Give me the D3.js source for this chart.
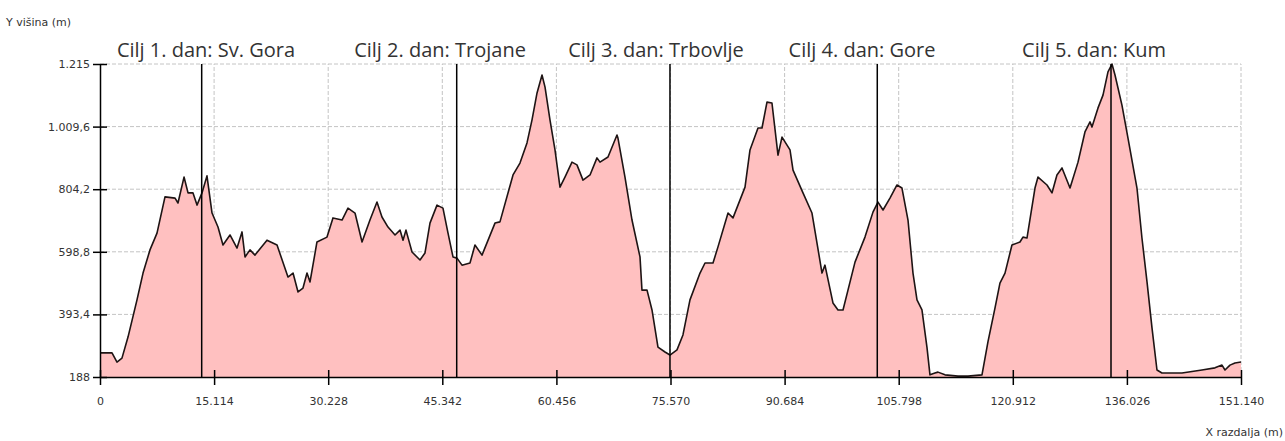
<!DOCTYPE html>
<html>
<head>
  <meta charset="utf-8">
  <title>Višinski profil</title>
  <script src="https://d3js.org/d3.v7.min.js"></script>
  <style>
    body { margin: 0; background: #fff; }
    svg text { font-family: "DejaVu Sans", sans-serif; font-size: 11px; fill: #333; }
    svg text.cilj { font-family: "Open Sans", sans-serif; font-size: 20px; fill: #333; }
    .grid line { stroke: #c4c4c4; stroke-dasharray: 4,2; }
  </style>
</head>
<body>
<div id="vis"></div>
<script>
// profil poti: razdalja (m) in višina (m), odčitano s slike
var razdalja = [0,660,1590,2250,2910,3710,4900,5700,6620,7550,
  8610,9940,10330,11130,11660,12320,12850,13510,14170,14840,
  15630,16290,17220,18150,18810,19210,19870,20530,22120,23450,
  24900,25570,26230,26890,27420,27820,28740,30070,30860,32060,
  32850,33780,34710,35760,36690,37350,38150,39080,39740,40140,
  40530,41330,42390,43050,43710,44640,45430,46100,46760,47290,
  47950,49010,49670,50600,52320,52980,54710,55630,56560,57220,
  57890,58550,58950,59610,60270,60930,61590,62520,63180,63980,
  64910,65830,66230,67290,68480,68610,69540,70470,71530,71790,
  72460,73120,73910,74840,75500,76430,77220,78150,79480,80140,
  81200,81860,83190,83850,85440,86100,87160,87690,88350,89010,
  89810,90340,91400,91800,93120,94310,95640,96030,97090,97760,
  98420,99080,100010,101330,102390,103050,103720,104640,105570,106230,
  107030,107690,108220,108880,109540,109940,110600,111000,111930,113650,
  114980,116830,117620,118550,119210,119880,120800,121860,122260,122790,
  123850,124250,125440,126100,126760,127430,128490,129550,130470,131140,
  131400,132200,132860,133520,134050,134450,135370,136170,137360,138020,
  138690,139350,140010,140670,143320,145970,147690,148620,149020,149680,150340,151140];

var visina = [267,267,267,237,250,319,441,529,605,660,
  779,775,759,844,792,792,752,792,848,726,
  680,621,654,611,664,582,605,588,637,621,
  516,529,467,480,529,500,631,647,710,703,
  742,726,631,703,762,713,680,654,670,637,
  670,598,572,595,693,752,742,660,582,578,
  555,562,621,588,693,697,851,890,956,1031,
  1120,1179,1139,1031,933,811,844,893,884,834,
  851,907,893,910,982,972,844,703,582,473,
  473,408,286,270,260,277,326,441,529,562,
  562,615,726,710,811,933,1005,1005,1090,1087,
  916,975,933,867,792,726,529,555,431,408,
  408,473,565,647,729,762,736,775,818,808,
  703,529,441,408,286,195,201,204,195,191,
  191,195,303,414,496,529,621,631,647,644,
  808,844,818,792,851,874,808,893,992,1025,
  1008,1071,1113,1189,1215,1179,1080,972,808,644,
  500,349,211,201,201,211,218,227,211,227,234,237];

// cilji posameznih dni
var ciljIme = ["Cilj 1. dan: Sv. Gora", "Cilj 2. dan: Trojane", "Cilj 3. dan: Trbovlje",
               "Cilj 4. dan: Gore", "Cilj 5. dan: Kum"];
var ciljRazdalja = [13470, 47250, 75500, 102960, 133920];
var ciljNapis = [14040, 45040, 73650, 100940, 131670];   // sredina napisa (m)

var yTicks = [188, 393.4, 598.8, 804.2, 1009.6, 1215];
var yTickLabels = ["188", "393,4", "598,8", "804,2", "1.009,6", "1.215"];
var xTicks = [0, 15114, 30228, 45342, 60456, 75570, 90684, 105798, 120912, 136026, 151140];
var xTickLabels = ["0", "15.114", "30.228", "45.342", "60.456", "75.570", "90.684",
                   "105.798", "120.912", "136.026", "151.140"];

var W = 1285, H = 441;
var m = {top: 64, right: 44, bottom: 64, left: 100};

var x = d3.scaleLinear().domain([0, 151140]).range([m.left, W - m.right]);
var y = d3.scaleLinear().domain([188, 1215]).range([H - m.bottom, m.top]);

var svg = d3.select("div#vis").append("svg")
  .attr("width", W)
  .attr("height", H);

var tocke = razdalja.map(function(d, i) { return [d, visina[i]]; });

// mreža
var grid = svg.append("g").attr("class", "grid");
grid.selectAll("line.h").data(yTicks.slice(1)).enter().append("line")
  .attr("x1", x(0)).attr("x2", x(151140))
  .attr("y1", function(d) { return y(d); })
  .attr("y2", function(d) { return y(d); });
grid.selectAll("line.v").data(xTicks.slice(1)).enter().append("line")
  .attr("x1", function(d) { return x(d); })
  .attr("x2", function(d) { return x(d); })
  .attr("y1", y(188)).attr("y2", y(1215));

// profil
var area = d3.area()
  .x(function(d) { return x(d[0]); })
  .y0(y(188))
  .y1(function(d) { return y(d[1]); });
var line = d3.line()
  .x(function(d) { return x(d[0]); })
  .y(function(d) { return y(d[1]); });

svg.append("path").datum(tocke)
  .attr("d", area)
  .attr("fill", "#ffc0c0");
svg.append("path").datum(tocke)
  .attr("d", line)
  .attr("fill", "none")
  .attr("stroke", "#1e1414")
  .attr("stroke-width", 1.6)
  .attr("stroke-linejoin", "round");

// cilji
svg.selectAll("line.cilj").data(ciljRazdalja).enter().append("line")
  .attr("class", "cilj")
  .attr("x1", function(d) { return x(d); })
  .attr("x2", function(d) { return x(d); })
  .attr("y1", y(1215)).attr("y2", y(188))
  .attr("stroke", "#000")
  .attr("stroke-width", 1.5);

svg.selectAll("text.cilj").data(ciljIme).enter().append("text")
  .attr("class", "cilj")
  .attr("x", function(d, i) { return x(ciljNapis[i]); })
  .attr("y", 57)
  .attr("text-anchor", "middle")
  .text(function(d) { return d; });

// osi
var yAxis = svg.append("g")
  .attr("transform", "translate(" + m.left + ",0)")
  .call(d3.axisLeft(y).tickValues(yTicks).tickSize(7).tickSizeOuter(0).tickPadding(3)
    .tickFormat(function(d, i) { return yTickLabels[i]; }));
yAxis.selectAll(".tick line").attr("x1", 7);

var xAxis = svg.append("g")
  .attr("transform", "translate(0," + (H - m.bottom) + ")")
  .call(d3.axisBottom(x).tickValues(xTicks).tickSize(8).tickSizeOuter(0).tickPadding(12)
    .tickFormat(function(d, i) { return xTickLabels[i]; }));
xAxis.selectAll(".tick line").attr("y1", -7);

svg.selectAll(".domain, .tick line").attr("stroke", "#000").attr("stroke-width", 1.5);
svg.selectAll(".tick text").style("font-family", "DejaVu Sans").style("font-size", "11px").attr("fill", "#333");

svg.append("text").attr("x", 6).attr("y", 26).text("Y višina (m)");
svg.append("text").attr("x", 1283).attr("y", 436).attr("text-anchor", "end").text("X razdalja (m)");
</script>
</body>
</html>
